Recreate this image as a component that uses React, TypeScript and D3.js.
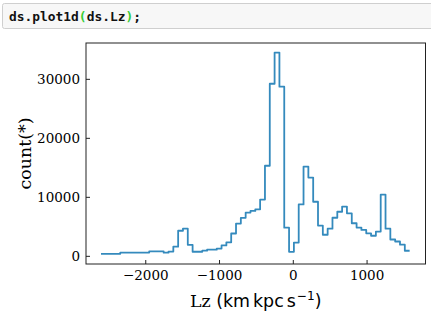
import React from "react";
import * as d3 from "d3";

// ---- data ----
const binMin = -2607; // Lz of first bin edge
const binMax = 1577; // Lz of last bin edge
const binCounts = [
  420, 420, 420, 420, 640, 640, 640, 640, 640, 640, 830, 830, 830, 620, 800, 1630,
  4340, 4700, 1950, 780, 780, 960, 1120, 1120, 1320, 1850, 2370, 3870, 5550, 6520, 7420, 7700,
  7970, 9620, 15350, 29250, 34530, 28750, 4850, 760, 2330, 8800, 15220, 13350, 9250, 5220, 3660, 4680,
  6540, 7560, 8440, 7290, 5610, 4880, 4480, 3900, 3490, 4200, 10470, 4680, 2850, 2510, 1970, 950,
];
const xTicks = [-2000, -1000, 0, 1000];
const yTicks = [0, 10000, 20000, 30000];
const xDomain = [-2810, 1792];
const yDomain = [-1300, 36160];

const W = 431;
const H = 322;
const plot = { left: 86, right: 425.5, top: 43, bottom: 264 };

const serif = "'DejaVu Serif', serif";
const sans = "'DejaVu Sans', sans-serif";
const mono = "'DejaVu Sans Mono', monospace";
const lineColor = "#348ABD";
const axisColor = "#222";

export default function App() {
  const x = d3.scaleLinear().domain(xDomain).range([plot.left, plot.right]);
  const y = d3.scaleLinear().domain(yDomain).range([plot.bottom, plot.top]);

  const n = binCounts.length;
  const step = (binMax - binMin) / n;
  const pts: [number, number][] = binCounts.map((c, i) => [binMin + i * step, c]);
  pts.push([binMax, binCounts[n - 1]]);
  const line = d3
    .line<[number, number]>()
    .x((d) => x(d[0]))
    .y((d) => y(d[1]))
    .curve(d3.curveStepAfter);

  const fmt = (v: number) => (v < 0 ? "\u2212" + Math.abs(v) : String(v));

  return (
    <svg
      width={W}
      height={H}
      style={{ position: "absolute", left: 0, top: 0, background: "#fff" }}
    >
      {/* code cell */}
      <rect x={2.5} y={3.5} width={440} height={25} rx={2} fill="#f7f7f7" stroke="#cfcfcf" />
      <text x={9} y={21} fontFamily={mono} fontSize={12.9} fontWeight="bold" fill="#111">
        <tspan>ds.plot1d</tspan>
        <tspan fill="#3c3">(</tspan>
        <tspan>ds.Lz</tspan>
        <tspan fill="#3c3">)</tspan>
        <tspan>;</tspan>
      </text>

      {/* data line */}
      <path d={line(pts) || ""} fill="none" stroke={lineColor} strokeWidth={1.8} strokeLinejoin="round" />

      {/* frame */}
      <rect
        x={plot.left}
        y={plot.top}
        width={plot.right - plot.left}
        height={plot.bottom - plot.top}
        fill="none"
        stroke={axisColor}
        strokeWidth={1}
      />

      {/* x ticks */}
      {xTicks.map((t) => (
        <g key={"x" + t}>
          <line x1={x(t)} x2={x(t)} y1={plot.bottom} y2={plot.bottom - 4} stroke={axisColor} strokeWidth={1} />
          <text x={x(t)} y={279.5} textAnchor="middle" fontFamily={serif} fontSize={13.5} fill="#000">
            {fmt(t)}
          </text>
        </g>
      ))}

      {/* y ticks */}
      {yTicks.map((t) => (
        <g key={"y" + t}>
          <line x1={plot.left} x2={plot.left + 4} y1={y(t)} y2={y(t)} stroke={axisColor} strokeWidth={1} />
          <text
            x={80}
            y={y(t)}
            dy="0.36em"
            textAnchor="end"
            fontFamily={serif}
            fontSize={13.5}
            fill="#000"
          >
            {fmt(t)}
          </text>
        </g>
      ))}

      {/* y label */}
      <text
        transform={`translate(30.5, ${(plot.top + plot.bottom) / 2}) rotate(-90)`}
        textAnchor="middle"
        fontFamily={serif}
        fontSize={17.4}
        fill="#000"
      >
        count(*)
      </text>

      {/* x label */}
      <text x={(plot.left + plot.right) / 2} y={306.7} textAnchor="middle" fontSize={17.4} fill="#000">
        <tspan fontFamily={serif}>Lz </tspan>
        <tspan fontFamily={sans}>(km</tspan>
        <tspan fontFamily={sans} dx={3}>kpc</tspan>
        <tspan fontFamily={sans} dx={3}>s</tspan>
        <tspan fontFamily={sans} fontSize={12.2} dy={-6.5} dx={1}>
          {"\u22121"}
        </tspan>
        <tspan fontFamily={sans} dy={6.5}>)</tspan>
      </text>
    </svg>
  );
}
